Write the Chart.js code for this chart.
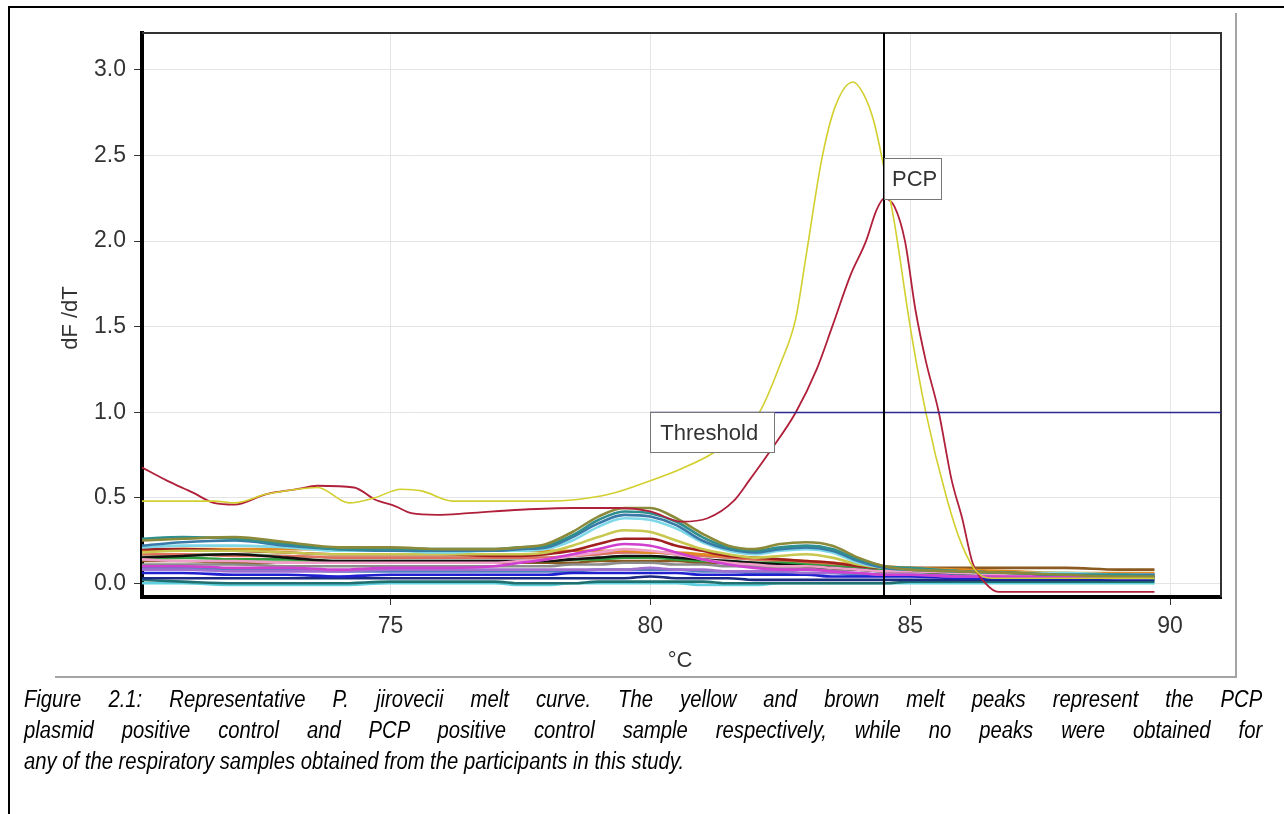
<!DOCTYPE html>
<html>
<head>
<meta charset="utf-8">
<script src="https://cdn.jsdelivr.net/npm/chart.js@4.4.1/dist/chart.umd.min.js"></script>
<style>
  html, body { margin: 0; padding: 0; background: #fff; }
  body { width: 1284px; height: 814px; position: relative; overflow: hidden; }
  #chart { position: absolute; left: 0; top: 0; }
  .frame-top { position: absolute; left: 8px; top: 6px; width: 1276px; height: 2px; background: #000; }
  .frame-left { position: absolute; left: 8px; top: 6px; width: 2px; height: 808px; background: #000; }
  .img-right { position: absolute; left: 1235px; top: 13px; width: 2px; height: 665px; background: #a4a4a4; }
  .img-bottom { position: absolute; left: 55px; top: 676px; width: 1182px; height: 2px; background: #a4a4a4; }
  .caption { position: absolute; left: 24px; top: 684px; width: 1238px; }
  .caption .inner {
    width: 1407px; transform: scaleX(0.88); transform-origin: 0 0;
    font: italic 23px "Liberation Sans", Arial, sans-serif; line-height: 31px; color: #000;
  }
  .caption .j { text-align: justify; text-align-last: justify; }
</style>
</head>
<body>
<canvas id="chart" width="1284" height="690"></canvas>
<div class="frame-top"></div>
<div class="frame-left"></div>
<div class="img-right"></div>
<div class="img-bottom"></div>
<div class="caption"><div class="inner">
  <div class="j">Figure 2.1: Representative P. jirovecii melt curve. The yellow and brown melt peaks represent the PCP</div>
  <div class="j">plasmid positive control and PCP positive control sample respectively, while no peaks were obtained for</div>
  <div>any of the respiratory samples obtained from the participants in this study.</div>
</div></div>

<script>
// axes
const xTicks = [75, 80, 85, 90];
const yTicks = [0, 0.5, 1.0, 1.5, 2.0, 2.5, 3.0];
const xMin = 70.22, xMax = 90.98;
const yMin = -0.08, yMax = 3.216;
const thresholdValue = 1.0;
const thresholdStart = 80;
const markerTemp = 84.5;

// PCP plasmid positive control (yellow)
const yellowTemps = [70.2, 71, 71.6, 72, 72.6, 73.2, 73.6, 74.2, 74.7, 75.2, 75.6, 76.2, 77, 78, 78.6, 79.2, 80, 80.6, 81.2, 81.7, 82.1, 82.5, 82.8, 83.0, 83.3, 83.55, 83.9, 84.1, 84.3, 84.5, 84.7, 85.0, 85.3, 85.7, 86.0, 86.3, 86.6, 87, 88, 89, 89.7];
const yellowVals = [0.48, 0.48, 0.48, 0.47, 0.52, 0.55, 0.56, 0.47, 0.50, 0.55, 0.54, 0.48, 0.48, 0.48, 0.49, 0.52, 0.60, 0.67, 0.76, 0.88, 1.0, 1.28, 1.55, 1.92, 2.48, 2.78, 2.93, 2.86, 2.70, 2.42, 2.1, 1.5, 1.0, 0.5, 0.22, 0.06, 0.03, 0.03, 0.03, 0.03, 0.03];

// PCP positive control sample (brown)
const redTemps = [70.2, 70.7, 71.2, 71.6, 72.0, 72.6, 73.2, 73.6, 74.3, 74.7, 75.1, 75.4, 75.9, 76.5, 77.5, 78.5, 79.4, 80.0, 80.6, 81.1, 81.6, 81.9, 82.3, 82.8, 83.2, 83.5, 83.85, 84.15, 84.35, 84.5, 84.7, 84.9, 85.1, 85.3, 85.55, 85.8, 86.0, 86.2, 86.45, 86.7, 87, 88, 89, 89.7];
const redVals = [0.68, 0.60, 0.53, 0.47, 0.46, 0.52, 0.55, 0.57, 0.56, 0.49, 0.45, 0.41, 0.40, 0.41, 0.43, 0.44, 0.44, 0.42, 0.36, 0.38, 0.48, 0.60, 0.77, 1.0, 1.25, 1.5, 1.8, 2.0, 2.18, 2.25, 2.2, 2.0, 1.6, 1.3, 1.0, 0.6, 0.38, 0.12, 0.0, -0.05, -0.05, -0.05, -0.05, -0.05];

// respiratory samples, all read on one temperature grid
const sampleTemps = [70.2, 71, 72, 73, 74, 75, 76, 77, 77.5, 78, 78.5, 79, 79.5, 80, 80.5, 81, 81.5, 82, 82.5, 83, 83.5, 84, 84.5, 85, 86, 87, 88, 89, 89.7];
const s1 = [0.25, 0.26, 0.27, 0.24, 0.21, 0.21, 0.20, 0.20, 0.21, 0.23, 0.30, 0.39, 0.44, 0.44, 0.38, 0.29, 0.22, 0.20, 0.23, 0.24, 0.22, 0.15, 0.10, 0.08, 0.07, 0.06, 0.05, 0.04, 0.04];
const s2 = [0.26, 0.27, 0.26, 0.23, 0.20, 0.20, 0.20, 0.20, 0.21, 0.22, 0.28, 0.37, 0.42, 0.41, 0.36, 0.27, 0.21, 0.19, 0.21, 0.22, 0.20, 0.14, 0.10, 0.09, 0.07, 0.06, 0.05, 0.05, 0.04];
const s3 = [0.22, 0.24, 0.25, 0.22, 0.20, 0.19, 0.19, 0.19, 0.20, 0.21, 0.27, 0.35, 0.40, 0.39, 0.34, 0.25, 0.20, 0.18, 0.20, 0.21, 0.19, 0.13, 0.09, 0.08, 0.07, 0.06, 0.05, 0.05, 0.05];
const s4 = [0.21, 0.22, 0.22, 0.21, 0.19, 0.19, 0.18, 0.19, 0.19, 0.20, 0.25, 0.33, 0.38, 0.37, 0.32, 0.24, 0.19, 0.17, 0.19, 0.20, 0.18, 0.12, 0.09, 0.08, 0.07, 0.06, 0.06, 0.05, 0.05];
const s5 = [0.18, 0.19, 0.19, 0.18, 0.17, 0.17, 0.17, 0.17, 0.17, 0.18, 0.22, 0.27, 0.31, 0.30, 0.25, 0.20, 0.17, 0.15, 0.16, 0.17, 0.15, 0.11, 0.09, 0.08, 0.07, 0.06, 0.06, 0.05, 0.05];
const s6 = [0.20, 0.20, 0.19, 0.18, 0.17, 0.17, 0.17, 0.16, 0.16, 0.17, 0.19, 0.23, 0.26, 0.26, 0.22, 0.19, 0.16, 0.15, 0.14, 0.13, 0.12, 0.10, 0.09, 0.08, 0.07, 0.06, 0.05, 0.05, 0.04];
const s7 = [0.10, 0.10, 0.09, 0.09, 0.08, 0.09, 0.09, 0.10, 0.12, 0.14, 0.17, 0.20, 0.23, 0.22, 0.18, 0.14, 0.11, 0.09, 0.08, 0.08, 0.07, 0.06, 0.05, 0.05, 0.04, 0.04, 0.04, 0.04, 0.04];
const s8 = [0.14, 0.13, 0.13, 0.12, 0.12, 0.12, 0.12, 0.12, 0.13, 0.14, 0.16, 0.18, 0.20, 0.19, 0.17, 0.14, 0.12, 0.11, 0.10, 0.10, 0.09, 0.08, 0.07, 0.07, 0.06, 0.05, 0.05, 0.05, 0.05];
const s9 = [0.15, 0.16, 0.17, 0.15, 0.13, 0.13, 0.13, 0.13, 0.13, 0.13, 0.14, 0.15, 0.16, 0.16, 0.15, 0.14, 0.13, 0.12, 0.11, 0.10, 0.09, 0.08, 0.07, 0.07, 0.06, 0.06, 0.05, 0.05, 0.05];
const s10 = [0.19, 0.20, 0.20, 0.20, 0.20, 0.20, 0.19, 0.19, 0.19, 0.19, 0.19, 0.19, 0.19, 0.18, 0.18, 0.17, 0.16, 0.15, 0.14, 0.13, 0.12, 0.11, 0.10, 0.09, 0.08, 0.07, 0.06, 0.06, 0.06];
const s11 = [0.14, 0.15, 0.14, 0.14, 0.13, 0.13, 0.13, 0.13, 0.13, 0.13, 0.14, 0.14, 0.15, 0.15, 0.14, 0.13, 0.13, 0.12, 0.12, 0.11, 0.10, 0.09, 0.08, 0.07, 0.06, 0.05, 0.04, 0.04, 0.03];
const s12 = [0.17, 0.17, 0.16, 0.16, 0.15, 0.15, 0.15, 0.15, 0.15, 0.15, 0.16, 0.17, 0.18, 0.18, 0.17, 0.16, 0.15, 0.14, 0.13, 0.12, 0.11, 0.10, 0.09, 0.08, 0.07, 0.06, 0.05, 0.05, 0.05];
const s13 = [0.11, 0.11, 0.11, 0.10, 0.10, 0.10, 0.10, 0.10, 0.10, 0.10, 0.11, 0.11, 0.12, 0.12, 0.11, 0.11, 0.10, 0.10, 0.09, 0.09, 0.08, 0.08, 0.07, 0.07, 0.06, 0.06, 0.05, 0.05, 0.05];
const s14 = [0.08, 0.08, 0.07, 0.07, 0.07, 0.08, 0.08, 0.08, 0.08, 0.08, 0.08, 0.08, 0.08, 0.09, 0.08, 0.08, 0.07, 0.07, 0.07, 0.06, 0.06, 0.06, 0.05, 0.05, 0.04, 0.04, 0.04, 0.03, 0.03];
const s15 = [0.06, 0.06, 0.05, 0.05, 0.04, 0.05, 0.05, 0.05, 0.05, 0.05, 0.06, 0.06, 0.06, 0.06, 0.06, 0.05, 0.05, 0.05, 0.05, 0.05, 0.04, 0.04, 0.04, 0.04, 0.03, 0.03, 0.03, 0.03, 0.03];
const s16 = [0.03, 0.03, 0.03, 0.03, 0.03, 0.03, 0.03, 0.03, 0.03, 0.03, 0.03, 0.03, 0.03, 0.04, 0.03, 0.03, 0.03, 0.02, 0.02, 0.02, 0.02, 0.02, 0.02, 0.02, 0.02, 0.02, 0.02, 0.02, 0.02];
const s17 = [0.02, 0.01, 0.00, 0.00, 0.00, 0.01, 0.01, 0.01, 0.00, 0.00, 0.00, 0.01, 0.01, 0.01, 0.01, 0.01, 0.00, 0.00, 0.00, 0.00, 0.00, 0.00, 0.00, 0.01, 0.01, 0.01, 0.01, 0.01, 0.01];
const s18 = [0.00, 0.00, -0.01, -0.01, -0.01, 0.00, 0.00, 0.00, -0.01, -0.01, 0.00, 0.00, 0.00, 0.00, 0.00, -0.01, -0.01, -0.01, 0.00, 0.00, 0.00, 0.00, 0.00, 0.00, 0.00, 0.00, 0.00, 0.00, 0.00];
const s19 = [0.13, 0.13, 0.12, 0.12, 0.12, 0.12, 0.12, 0.12, 0.12, 0.12, 0.12, 0.13, 0.13, 0.13, 0.13, 0.12, 0.12, 0.11, 0.11, 0.10, 0.10, 0.09, 0.09, 0.09, 0.09, 0.09, 0.09, 0.08, 0.08];
const s20 = [0.09, 0.09, 0.08, 0.08, 0.07, 0.07, 0.07, 0.07, 0.07, 0.07, 0.07, 0.08, 0.08, 0.08, 0.08, 0.07, 0.07, 0.06, 0.06, 0.06, 0.06, 0.05, 0.05, 0.05, 0.05, 0.05, 0.05, 0.04, 0.04];
const s21 = [0.16, 0.17, 0.17, 0.16, 0.15, 0.15, 0.15, 0.15, 0.15, 0.15, 0.16, 0.17, 0.18, 0.18, 0.17, 0.16, 0.15, 0.14, 0.13, 0.12, 0.11, 0.10, 0.09, 0.08, 0.07, 0.06, 0.06, 0.05, 0.05];

const samples = [s1, s2, s3, s4, s5, s6, s7, s8, s9, s10, s11, s12, s13, s14, s15, s16, s17, s18, s19, s20, s21];
const sampleColors = ['#8a8a3a', '#2f8f8f', '#3a7aa8', '#7fd8e8', '#c8c850', '#a02020', '#d040d0', '#f0a0c8', '#111111',
  '#e08a20', '#30a040', '#e07060', '#8c8c8c', '#a070d0', '#2020d0', '#1a2a80', '#207070', '#60d0e0', '#8b5a20', '#5080c0', '#90d090'];

function toPoints(xs, ys) {
  return xs.map((x, i) => ({ x: x, y: ys[i] }));
}

const datasets = [
  { data: toPoints(yellowTemps, yellowVals), borderColor: '#d2cf2e', borderWidth: 1.6 },
  { data: toPoints(redTemps, redVals), borderColor: '#b0203a', borderWidth: 1.8 }
];
samples.forEach((s, i) => {
  datasets.push({ data: toPoints(sampleTemps, s), borderColor: sampleColors[i], borderWidth: 2.6 });
});

// threshold, marker line, labels, top/right frame
const overlay = {
  id: 'overlay',
  afterDatasetsDraw(chart) {
    const ctx = chart.ctx, a = chart.chartArea;
    const xs = chart.scales.x, ys = chart.scales.y;
    ctx.save();
    ctx.strokeStyle = '#333';
    ctx.lineWidth = 2;
    ctx.beginPath();
    ctx.moveTo(a.left, a.top); ctx.lineTo(a.right, a.top); ctx.lineTo(a.right, a.bottom);
    ctx.stroke();

    const ty = Math.round(ys.getPixelForValue(thresholdValue)) + 0.5;
    const tx = xs.getPixelForValue(thresholdStart);
    ctx.strokeStyle = '#2a2a90';
    ctx.lineWidth = 1.5;
    ctx.beginPath(); ctx.moveTo(tx, ty); ctx.lineTo(a.right, ty); ctx.stroke();

    const mx = Math.round(xs.getPixelForValue(markerTemp));
    ctx.strokeStyle = '#000';
    ctx.lineWidth = 2;
    ctx.beginPath(); ctx.moveTo(mx, a.top); ctx.lineTo(mx, a.bottom); ctx.stroke();

    ctx.font = '22px "Liberation Sans", Arial, sans-serif';
    ctx.textBaseline = 'middle';
    ctx.textAlign = 'left';
    // Threshold box
    ctx.fillStyle = '#fff';
    ctx.fillRect(tx, ty, 124, 40);
    ctx.strokeStyle = '#777';
    ctx.lineWidth = 1;
    ctx.strokeRect(Math.round(tx) + 0.5, ty, 124, 40);
    ctx.fillStyle = '#333';
    ctx.fillText('Threshold', tx + 10, ty + 21);
    // PCP box
    const py = ys.getPixelForValue(2.246);
    ctx.fillStyle = '#fff';
    ctx.fillRect(mx + 1, py - 41, 57, 41);
    ctx.strokeStyle = '#777';
    ctx.strokeRect(mx + 0.5, Math.round(py - 41) + 0.5, 57, 41);
    ctx.fillStyle = '#333';
    ctx.fillText('PCP', mx + 8, py - 19);

    // axis titles
    ctx.textAlign = 'center';
    ctx.fillText('\u00b0C', 680, 661);
    ctx.translate(71, 318);
    ctx.rotate(-Math.PI / 2);
    ctx.fillText('dF /dT', 0, 0);
    ctx.restore();
  }
};

new Chart(document.getElementById('chart'), {
  type: 'line',
  data: { datasets: datasets },
  options: {
    responsive: false,
    animation: false,
    devicePixelRatio: 1,
    layout: { padding: { left: 0, top: 33, right: 63, bottom: 13 } },
    elements: { point: { radius: 0 }, line: { cubicInterpolationMode: 'monotone', fill: false } },
    plugins: { legend: { display: false }, tooltip: { enabled: false } },
    scales: {
      x: {
        type: 'linear', min: xMin, max: xMax,
        afterBuildTicks: s => { s.ticks = xTicks.map(v => ({ value: v })); },
        afterFit: s => { s.height = 80; },
        grid: { color: '#e4e4e4', tickColor: '#333', tickLength: 8, lineWidth: 1 },
        border: { color: '#000', width: 4 },
        ticks: { color: '#333', font: { family: '"Liberation Sans", Arial, sans-serif', size: 23 }, padding: 8, maxRotation: 0 }
      },
      y: {
        min: yMin, max: yMax,
        afterBuildTicks: s => { s.ticks = yTicks.map(v => ({ value: v })); },
        afterFit: s => { s.width = 142; },
        grid: { color: '#e4e4e4', tickColor: '#333', tickLength: 8, lineWidth: 1 },
        border: { color: '#000', width: 4 },
        ticks: { color: '#333', font: { family: '"Liberation Sans", Arial, sans-serif', size: 23 }, padding: 8,
          callback: v => v.toFixed(1) }
      }
    }
  },
  plugins: [overlay]
});
</script>
</body>
</html>
